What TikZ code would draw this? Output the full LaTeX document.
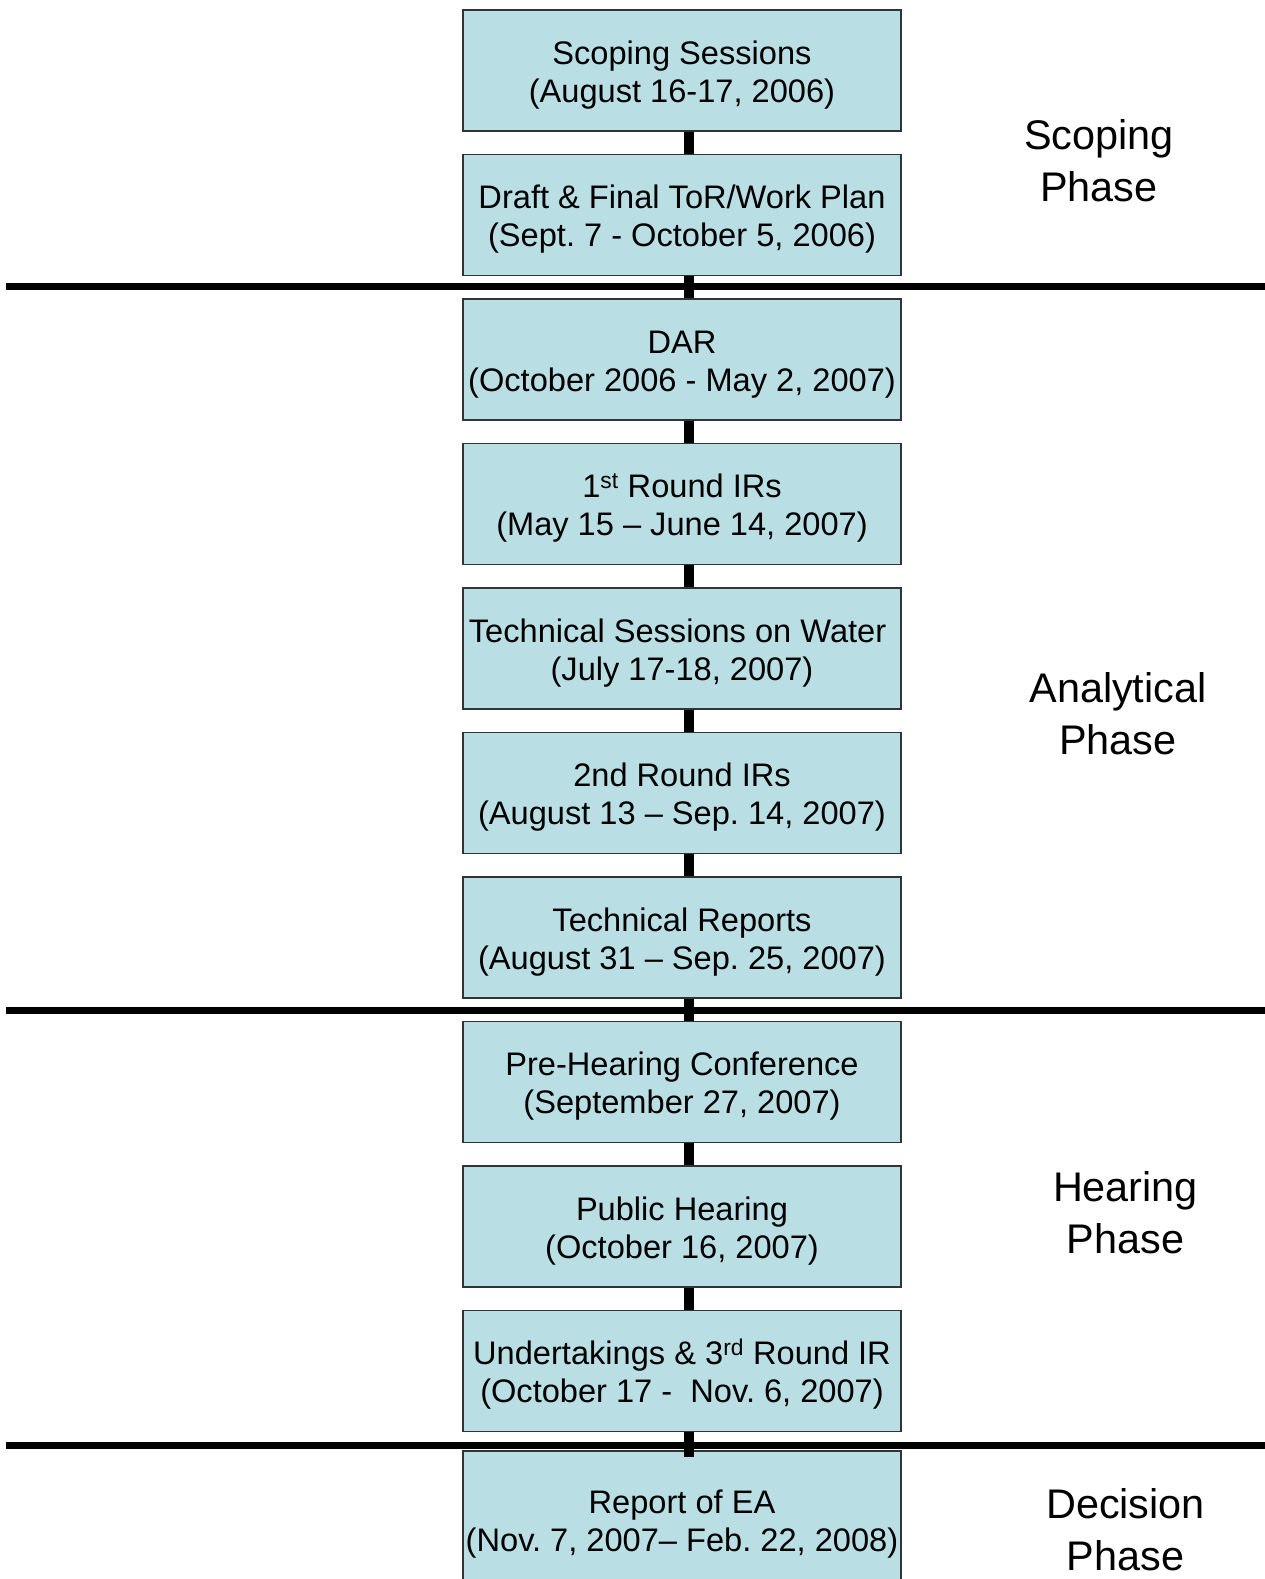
\documentclass[tikz,border=0pt]{standalone}
\usepackage{fontspec}
\setmainfont{Liberation Sans}
\frenchspacing
\definecolor{boxblue}{RGB}{185,223,228}
\newcommand\boxfont{\fontsize{32.6}{38}\selectfont}
\newcommand\phasefont{\fontsize{41.4}{51.7}\selectfont}
\newcommand\topstr{\rule{0pt}{33.5pt}}
\newcommand\botstr{\rule[-8pt]{0pt}{8pt}}
\begin{document}
\begin{tikzpicture}[x=1pt,y=-1pt,
  box/.style={draw=black!80, line width=1.3pt, fill=boxblue, minimum width=438pt,
    minimum height=121pt, inner sep=0pt, align=center, font=\boxfont},
  conn/.style={line width=10pt, black},
  sep/.style={line width=7pt, black},
  phase/.style={anchor=base, align=center, font=\phasefont}]
\useasboundingbox (0,0) rectangle (1265,1579);
\clip (0,0) rectangle (1265,1579);
\fill[white] (0,0) rectangle (1265,1579);

\node[box] (b0) at (682,70.5) {\topstr Scoping Sessions\\(August 16-17, 2006)\botstr};
\node[box] (b1) at (682,215) {\topstr Draft \& Final ToR/Work Plan\\(Sept. 7 - October 5, 2006)\botstr};
\node[box] (b2) at (682,359.5) {\topstr DAR\\(October 2006 - May 2, 2007)\botstr};
\node[box] (b3) at (682,504) {\topstr 1\textsuperscript{st} Round IRs\\(May 15 – June 14, 2007)\botstr};
\node[box] (b4) at (682,648.5) {\topstr Technical Sessions on Water\kern8.9pt\\(July 17-18, 2007)\botstr};
\node[box] (b5) at (682,793) {\topstr 2nd Round IRs\\(August 13 – Sep. 14, 2007)\botstr};
\node[box] (b6) at (682,937.5) {\topstr Technical Reports\\(August 31 – Sep. 25, 2007)\botstr};
\node[box] (b7) at (682,1082) {\topstr Pre-Hearing Conference\\(September 27, 2007)\botstr};
\node[box] (b8) at (682,1226.5) {\topstr Public Hearing\\(October 16, 2007)\botstr};
\node[box] (b9) at (682,1371) {\topstr Undertakings \& 3\textsuperscript{rd} Round IR\\(October 17 -~\ Nov. 6, 2007)\botstr};
\node[box, minimum height=138pt] (b10) at (682,1520) {\topstr Report of EA\\(Nov. 7, 2007– Feb. 22, 2008)\botstr};

\coordinate (l1a) at (6,286);  \coordinate (l1b) at (1265,286);
\coordinate (l2a) at (6,1010); \coordinate (l2b) at (1265,1010);
\coordinate (l3a) at (6,1445); \coordinate (l3b) at (1265,1445);
\draw[sep] (l1a) -- (l1b);
\draw[sep] (l2a) -- (l2b);
\draw[sep] (l3a) -- (l3b);

\foreach \a/\b in {b0/b1,b1/b2,b2/b3,b3/b4,b4/b5,b5/b6,b6/b7,b7/b8,b8/b9}
  \draw[conn] ([xshift=7pt]\a.south) -- ([xshift=7pt]\b.north);
\draw[conn] ([xshift=7pt]b9.south) -- ([xshift=7pt,yshift=-7pt]b10.north);

\node[phase] (p1) at (1099,201) {Scoping\\Phase};
\node[phase] (p2) at (1118,754.5) {Analytical\\Phase};
\node[phase] (p3) at (1125.5,1253.5) {Hearing\\Phase};
\node[phase] (p4) at (1125.5,1570) {Decision\\Phase};
\end{tikzpicture}
\end{document}
